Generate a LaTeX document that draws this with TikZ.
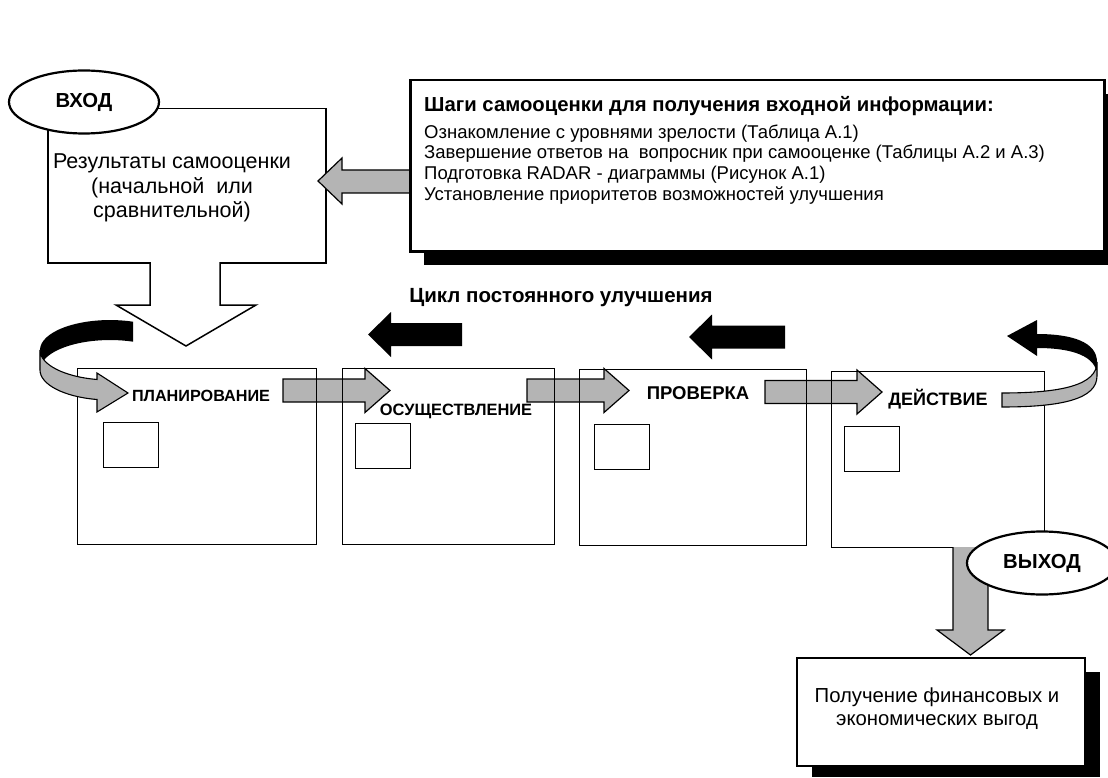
\documentclass[tikz,border=0pt]{standalone}
\usepackage{fontspec}
\setmainfont{Liberation Sans}
\usetikzlibrary{positioning, shapes.geometric}
\definecolor{ribbongray}{RGB}{180,180,180}

% grey block arrow to the right: tail x, tip x, centre y
\newcommand{\grayarrow}[3]{%
  \filldraw[fill=ribbongray, line width=1.2pt] (#1,#3-11.5) -- (#2-25,#3-11.5) -- (#2-25,#3-22) -- (#2,#3)
    -- (#2-25,#3+22) -- (#2-25,#3+11.5) -- (#1,#3+11.5) -- cycle;}
% black block arrow to the left: tip x, tail x, centre y
\newcommand{\blackarrow}[3]{%
  \fill (#1,#3) -- (#1+23,#3-22.5) -- (#1+23,#3-11.5) -- (#2,#3-11.5) -- (#2,#3+11.5)
    -- (#1+23,#3+11.5) -- (#1+23,#3+22.5) -- cycle;}

\begin{document}
\begin{tikzpicture}[x=1pt, y=-1pt,
    stage/.style={draw, line width=1.3pt, minimum width=#1, minimum height=176pt, inner sep=0pt, anchor=north west},
    smallbox/.style={draw, line width=1.3pt, minimum width=55pt, minimum height=45pt, inner sep=0pt, anchor=north west},
    oval/.style={ellipse, draw, fill=white, line width=2.2pt, minimum width=150pt, minimum height=63pt,
      font=\bfseries\fontsize{20.3}{20.3}\selectfont},
    stagelabel/.style={font=\bfseries\fontsize{#1}{#1}\selectfont, inner sep=0pt}]
    \useasboundingbox (0,0) rectangle (1108,778);

    % Input side
    \node (results) [draw, line width=1.5pt, minimum width=278pt, minimum height=154pt, inner sep=0pt, anchor=north west] at (47,108) {};
    \node (restxt) [align=center, font=\fontsize{21.5}{24.5}\selectfont] at (172,188) {Результаты самооценки\\(начальной\ \ или\\сравнительной)};
    \node (vhod) [oval] at (84,102) {ВХОД};
    \fill[white] (151.5,259) rectangle (218.5,265);
    \draw[line width=1.5pt, fill=white] (150,262) -- (150,305) -- (116,305) -- (186,346) -- (256,305) -- (220,305) -- (220,262);

    % Self-assessment steps
    \filldraw[fill=ribbongray, line width=1.2pt] (410,170) -- (342,170) -- (342,158) -- (318,181) -- (342,204) -- (342,193) -- (410,193);
    \fill (424,94) rectangle (1112,265);
    \node (steps) [draw, fill=white, line width=2.5pt, minimum width=694pt, minimum height=171pt, inner sep=0pt, anchor=north west] at (409,79) {};
    \node (stepstxt) [align=left, anchor=north west, inner sep=0pt, font=\fontsize{18.5}{20.7}\selectfont] at (424,96)
      {{\bfseries\fontsize{20.3}{20.7}\selectfont Шаги самооценки для получения входной информации:}\\[6pt]
       Ознакомление с уровнями зрелости (Таблица А.1)\\
       Завершение ответов на\ \ вопросник при самооценке (Таблицы А.2 и А.3)\\
       Подготовка RADAR - диаграммы (Рисунок А.1)\\
       Установление приоритетов возможностей улучшения};

    % Improvement cycle
    \node (cycle) [font=\bfseries\fontsize{20.5}{20.5}\selectfont] at (561,298) {Цикл постоянного улучшения};
    \blackarrow{368}{462}{334.5}
    \blackarrow{689}{785}{337}

    \grayarrow{283}{390}{390.5}
    \grayarrow{527}{629}{390.5}
    \grayarrow{765}{882}{392}

    \node (plan) [stage=239pt] at (77,368) {};
    \node (impl) [stage=212pt] at (342,368) {};
    \node (check) [stage=227pt] at (579,369) {};
    \node (act) [stage=213pt] at (831,371) {};
    \node (plansq) [smallbox] at (103,422) {};
    \node (implsq) [smallbox] at (355,423) {};
    \node (checksq) [smallbox] at (594,424) {};
    \node (actsq) [smallbox] at (844,426) {};

    \node (planlbl) [stagelabel=16.2] at (201,396) {ПЛАНИРОВАНИЕ};
    \node (impllbl) [stagelabel=16.4] at (456,411) {ОСУЩЕСТВЛЕНИЕ};
    \node (checklbl) [stagelabel=18.5] at (698,393) {ПРОВЕРКА};
    \node (actlbl) [stagelabel=18] at (938,399) {ДЕЙСТВИЕ};

    % Turning ribbons
    \fill (133,321.7) arc[start angle=-70.8, end angle=-180, x radius=70, y radius=30] -- ++(0,20)
      arc[start angle=-180, end angle=-70.8, x radius=70, y radius=30] -- cycle;
    \filldraw[fill=ribbongray, line width=1.1pt] (40,350) arc[start angle=180, end angle=100.7, x radius=70, y radius=30]
      -- (97,373) -- (128,393) -- (97,412) -- (97,399.5) arc[start angle=100.7, end angle=180, x radius=70, y radius=30] -- cycle;

    \fill (1097,362) .. controls (1097,342) and (1072,334) .. (1037,334) -- (1037,320) -- (1007,336) -- (1037,356)
      -- (1037,348) .. controls (1072,348) and (1097,356) .. (1097,376) -- cycle;
    \filldraw[fill=ribbongray, line width=1.1pt] (1002,393) .. controls (1062,393) and (1097,385) .. (1097,362)
      -- (1097,376) .. controls (1097,399) and (1062,407) .. (1002,407) -- cycle;

    % Output side
    \filldraw[fill=ribbongray, line width=1.2pt] (953,547) -- (953,630) -- (937,630) -- (970.5,655) -- (1004,630) -- (988,630) -- (988,547);
    \node (vyhod) [oval] at (1042,563) {ВЫХОД};
    \fill (812,672) rectangle (1100,777);
    \node (gain) [draw, fill=white, line width=2pt, minimum width=288pt, minimum height=108pt, inner sep=0pt, anchor=north west] at (796,657) {};
    \node (gaintxt) [align=center, font=\fontsize{20.3}{23}\selectfont] at (937,709) {Получение финансовых и\\экономических выгод};
\end{tikzpicture}
\end{document}
